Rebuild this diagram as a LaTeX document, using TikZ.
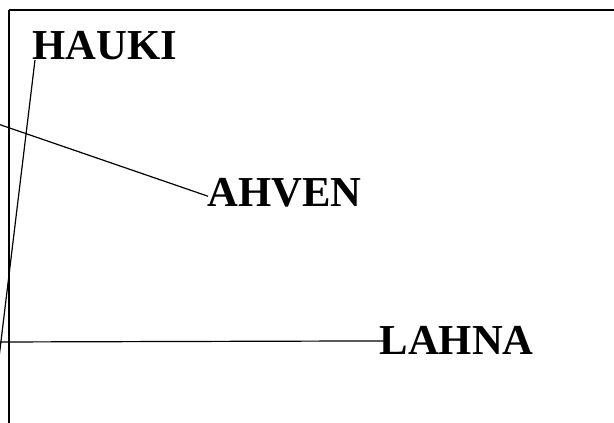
\documentclass[tikz,border=0pt]{standalone}
\usepackage{fontspec}
\setmainfont{Liberation Serif}
\usetikzlibrary{calc}

\begin{document}
\begin{tikzpicture}[x=0.75pt,y=-0.75pt,line width=0.9pt]
	\tikzset{fish/.style={font=\bfseries\fontsize{32}{36}\selectfont,inner sep=0pt,anchor=base west}}
	\useasboundingbox (0,0) rectangle (614,423);
	\path
	(32,60) node[fish] (hauki) {HAUKI}
	(207,207) node[fish] (ahven) {AHVEN}
	(379,355) node[fish] (lahna) {LAHNA}
	(9,10) coordinate (corner)
	(9,430) coordinate (bottom)
	(620,10) coordinate (right)
	(-2,366) coordinate (H0)
	(-2,124) coordinate (A0)
	(-2,342) coordinate (L0)
	;
	\draw[line width=1.3pt] (corner) -- (right);
	\draw[line width=1pt] (corner) -- (bottom);
	\draw (H0) -- ($(hauki.base west)+(3,0)$);
	\draw (A0) -- ($(ahven.west)+(1,3)$);
	\draw (L0) -- ($(lahna.west)+(7,0)$);
\end{tikzpicture}
\end{document}
